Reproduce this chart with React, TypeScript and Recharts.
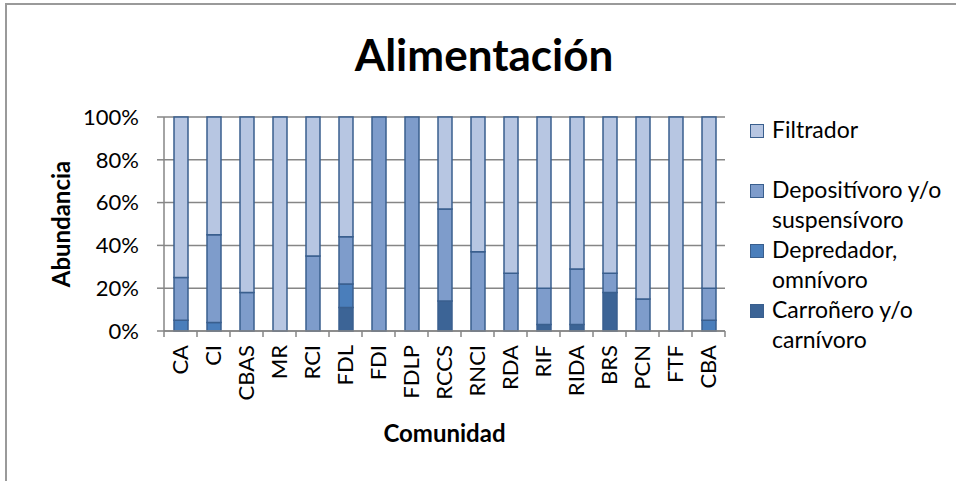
import React from 'react';
import { BarChart, Bar, XAxis, YAxis, CartesianGrid, Legend } from 'recharts';

const categories = ['CA', 'CI', 'CBAS', 'MR', 'RCI', 'FDL', 'FDI', 'FDLP', 'RCCS', 'RNCI', 'RDA', 'RIF', 'RIDA', 'BRS', 'PCN', 'FTF', 'CBA'];
const carronero = [0, 0, 0, 0, 0, 11, 0, 0, 14, 0, 0, 3, 3, 18, 0, 0, 0];
const depredador = [5, 4, 0, 0, 0, 11, 0, 0, 0, 0, 0, 0, 0, 0, 0, 0, 5];
const depositivoro = [20, 41, 18, 0, 35, 22, 100, 100, 43, 37, 27, 17, 26, 9, 15, 0, 15];
const filtrador = [75, 55, 82, 100, 65, 56, 0, 0, 43, 63, 73, 80, 71, 73, 85, 100, 80];
const yTicks = [0, 20, 40, 60, 80, 100];

const title = 'Alimentación';
const xTitle = 'Comunidad';
const yTitle = 'Abundancia';

const series = [
  { key: 'carronero', lines: ['Carroñero y/o', 'carnívoro'], color: '#3C6496' },
  { key: 'depredador', lines: ['Depredador,', 'omnívoro'], color: '#4A7EBB' },
  { key: 'depositivoro', lines: ['Depositívoro y/o', 'suspensívoro'], color: '#7E9CCB' },
  { key: 'filtrador', lines: ['Filtrador'], color: '#B7C6E2' },
];

const data = categories.map((name, i) => ({
  name,
  carronero: carronero[i],
  depredador: depredador[i],
  depositivoro: depositivoro[i],
  filtrador: filtrador[i],
}));

const FONT = 'Lato, "Open Sans", sans-serif';
const GRAY = '#868686';
const STROKE = '#3A5F8E';

function XTick(props: any) {
  const { x, y, payload } = props;
  const half = payload && payload.offset ? payload.offset : 16.5;
  const isLast = payload.value === categories[categories.length - 1];
  const ty = y + 14;
  return (
    <g>
      <line x1={x - half} x2={x - half} y1={y} y2={y + 6} stroke={GRAY} strokeWidth={1.5} />
      {isLast && <line x1={x + half} x2={x + half} y1={y} y2={y + 6} stroke={GRAY} strokeWidth={1.5} />}
      <text
        x={x}
        y={ty}
        transform={`rotate(-90, ${x}, ${ty})`}
        textAnchor="end"
        dy="0.36em"
        fontSize={22}
        fontFamily={FONT}
        fill="#000"
      >
        {payload.value}
      </text>
    </g>
  );
}

function LegendContent() {
  const items = [...series].reverse();
  return (
    <div style={{ fontFamily: FONT, fontSize: 23, color: '#000' }}>
      {items.map((s) => (
        <div key={s.key} style={{ height: 60, position: 'relative' }}>
          <div
            style={{
              position: 'absolute',
              left: 6,
              top: 10,
              width: 12,
              height: 12,
              background: s.color,
              border: `1.5px solid ${STROKE}`,
            }}
          />
          <div style={{ position: 'absolute', left: 28, top: 0, lineHeight: '30px', whiteSpace: 'nowrap' }}>
            {s.lines.map((l, j) => (
              <div key={j}>{l}</div>
            ))}
          </div>
        </div>
      ))}
    </div>
  );
}

export default function App() {
  return (
    <div style={{ position: 'absolute', left: 0, top: 0, width: 956, height: 481, overflow: 'hidden', background: '#fff' }}>
      <div
        style={{
          position: 'absolute',
          left: 5,
          top: 3,
          width: 1100,
          height: 700,
          borderTop: '2px solid #9a9a9a',
          borderLeft: '2px solid #9a9a9a',
        }}
      />
      <div
        style={{
          position: 'absolute',
          left: 484,
          top: 32,
          transform: 'translateX(-50%)',
          fontFamily: FONT,
          fontWeight: 700,
          fontSize: 44,
          lineHeight: '44px',
          whiteSpace: 'nowrap',
          color: '#000',
        }}
      >
        {title}
      </div>
      <div style={{ position: 'absolute', left: 0, top: 0 }}>
        <BarChart
          width={956}
          height={481}
          data={data}
          margin={{ top: 117, right: 19, bottom: 0, left: 0 }}
          barSize={14}
        >
          <CartesianGrid vertical={false} stroke={GRAY} strokeWidth={1.5} />
          <YAxis
            width={164}
            domain={[0, 100]}
            ticks={yTicks}
            tickFormatter={(v: number) => `${v}%`}
            tickSize={7}
            tickMargin={18}
            axisLine={{ stroke: GRAY, strokeWidth: 1.5 }}
            tickLine={{ stroke: GRAY, strokeWidth: 1.5 }}
            tick={{ fontSize: 22, fontFamily: FONT, fill: '#000' }}
            label={{
              content: (p: any) => {
                const vb = p.viewBox || { x: 0, y: 117, width: 164, height: 214 };
                const cx = vb.x + 60;
                const cy = vb.y + vb.height / 2;
                return (
                  <text
                    x={cx}
                    y={cy}
                    transform={`rotate(-90, ${cx}, ${cy})`}
                    textAnchor="middle"
                    dominantBaseline="central"
                    fontSize={24}
                    fontWeight={700}
                    fontFamily={FONT}
                    fill="#000"
                  >
                    {yTitle}
                  </text>
                );
              },
            }}
          />
          <XAxis
            dataKey="name"
            height={150}
            interval={0}
            tickSize={0}
            tickMargin={0}
            tickLine={false}
            axisLine={{ stroke: GRAY, strokeWidth: 1.5 }}
            tick={<XTick />}
            label={{
              content: (p: any) => {
                const vb = p.viewBox || { x: 164, y: 331, width: 561, height: 150 };
                return (
                  <text
                    x={vb.x + vb.width / 2}
                    y={vb.y + 101}
                    textAnchor="middle"
                    dominantBaseline="central"
                    fontSize={24}
                    fontWeight={700}
                    fontFamily={FONT}
                    fill="#000"
                  >
                    {xTitle}
                  </text>
                );
              },
            }}
          />
          <Legend
            layout="vertical"
            align="right"
            verticalAlign="middle"
            content={<LegendContent />}
            wrapperStyle={{ left: 744, top: 114, width: 212, height: 240 }}
          />
          {series.map((s) => (
            <Bar
              key={s.key}
              dataKey={s.key}
              stackId="a"
              fill={s.color}
              stroke={STROKE}
              strokeWidth={1.5}
              isAnimationActive={false}
            />
          ))}
        </BarChart>
      </div>
    </div>
  );
}
